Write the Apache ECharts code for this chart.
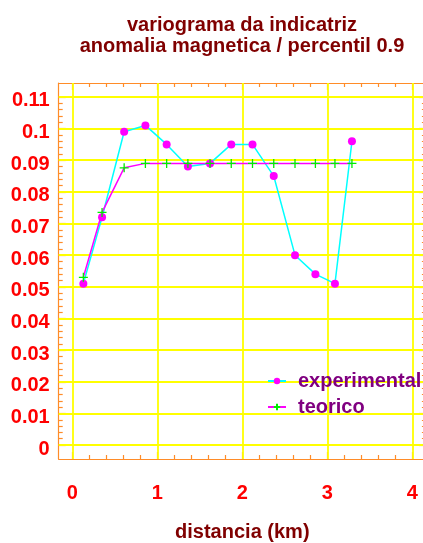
<!DOCTYPE html>
<html>
<head>
<meta charset="utf-8">
<script src="https://cdn.jsdelivr.net/npm/echarts@6/dist/echarts.min.js"></script>
<style>
  html, body { margin: 0; padding: 0; background: #fff; }
  #chart { width: 423px; height: 543px; }
</style>
</head>
<body>
<div id="chart"></div>
<script>
// lag distances (km) and variogram values
const lags = [0.13, 0.35, 0.61, 0.86, 1.11, 1.36, 1.62, 1.87, 2.12, 2.37, 2.62, 2.86, 3.09, 3.29];
const experimental = [0.051, 0.072, 0.099, 0.101, 0.095, 0.088, 0.089, 0.095, 0.095, 0.085, 0.060, 0.054, 0.051, 0.096];
const teorico = [0.053, 0.0735, 0.0876, 0.089, 0.089, 0.089, 0.089, 0.089, 0.089, 0.089, 0.089, 0.089, 0.089, 0.089];

const xTicks = [0, 1, 2, 3, 4];
const yTicks = [0, 0.01, 0.02, 0.03, 0.04, 0.05, 0.06, 0.07, 0.08, 0.09, 0.1, 0.11];

// minor ticks, 5 per major step
const xMinor = [];
for (let i = 1; i < 20; i++) if (i % 5) xMinor.push(i * 0.2);
const yMinor = [];
for (let i = 1; i < 55; i++) if (i % 5) yMinor.push(i * 0.002);

const FONT = '"Liberation Sans", Arial, sans-serif';
const ORANGE = '#ff8c28';

const chart = echarts.init(document.getElementById('chart'), null, { renderer: 'canvas' });

function fmt(v) { return String(Number(v.toFixed(4))); }

function frameAxis(pos, min, max, ticks, len, main) {
  return {
    type: 'value',
    position: pos,
    min: min,
    max: max,
    axisLine: { show: main, onZero: false, lineStyle: { color: ORANGE, width: 1.2 } },
    axisTick: { show: true, inside: true, length: len, customValues: ticks, lineStyle: { color: ORANGE, width: 1.2 } },
    axisLabel: { show: false },
    splitLine: { show: false }
  };
}

const xMin = -0.16, xMax = 4.16, yMin = -0.0044, yMax = 0.1144;

const xMain = frameAxis('bottom', xMin, xMax, xTicks, 7, true);
xMain.axisLabel = {
  show: true, customValues: xTicks, margin: 24, formatter: fmt,
  color: '#ff0000', fontWeight: 'bold', fontSize: 20, fontFamily: FONT
};
xMain.name = 'distancia (km)';
xMain.nameLocation = 'middle';
xMain.nameGap = 63;
xMain.nameMoveOverlap = false;
xMain.nameTextStyle = { color: '#800000', fontWeight: 'bold', fontSize: 20, fontFamily: FONT };

const yMain = frameAxis('left', yMin, yMax, yTicks, 7, true);
yMain.axisLabel = {
  show: true, customValues: yTicks, margin: 9, formatter: fmt,
  verticalAlign: 'top', lineHeight: 8,
  color: '#ff0000', fontWeight: 'bold', fontSize: 20, fontFamily: FONT
};

const option = {
  animation: false,
  backgroundColor: '#ffffff',
  title: {
    text: 'variograma da indicatriz\nanomalia magnetica / percentil 0.9',
    left: 237,
    top: 10,
    textAlign: 'center',
    textStyle: { color: '#800000', fontWeight: 'bold', fontSize: 20, lineHeight: 21, fontFamily: FONT }
  },
  grid: { left: 58.7, top: 83, width: 367.2, height: 376, outerBoundsMode: 'none', containLabel: false },
  legend: {
    data: ['experimental', 'teorico'],
    orient: 'vertical',
    left: 267,
    top: 371,
    padding: 0,
    itemWidth: 18,
    itemHeight: 8,
    itemGap: 6,
    textStyle: { color: '#800080', fontWeight: 'bold', fontSize: 20, fontFamily: FONT, padding: [0, 0, 0, 7] }
  },
  xAxis: [
    xMain,
    frameAxis('bottom', xMin, xMax, xMinor, 4, false),
    frameAxis('top', xMin, xMax, xTicks, 7, true),
    frameAxis('top', xMin, xMax, xMinor, 4, false)
  ],
  yAxis: [
    yMain,
    frameAxis('left', yMin, yMax, yMinor, 4, false),
    frameAxis('right', yMin, yMax, yTicks, 7, true),
    frameAxis('right', yMin, yMax, yMinor, 4, false)
  ],
  series: [
    {
      name: 'experimental',
      type: 'line',
      data: lags.map((x, i) => [x, experimental[i]]),
      symbol: 'circle',
      symbolSize: 8,
      lineStyle: { color: '#00ffff', width: 1.5 },
      itemStyle: { color: '#ff00ff' },
      markLine: {
        silent: true,
        z: 1,
        symbol: 'none',
        label: { show: false },
        lineStyle: { color: '#ffff00', width: 1.8, type: 'solid' },
        data: xTicks.map(v => ({ xAxis: v })).concat(yTicks.map(v => ({ yAxis: v })))
      }
    },
    {
      name: 'teorico',
      type: 'line',
      data: lags.map((x, i) => [x, teorico[i]]),
      symbol: 'path://M0,5L10,5M5,0L5,10',
      symbolSize: 9,
      lineStyle: { color: '#ff00ff', width: 1.5 },
      itemStyle: { color: '#00ee00', borderColor: '#00ee00', borderWidth: 1.3 }
    }
  ]
};

chart.setOption(option);
</script>
</body>
</html>
